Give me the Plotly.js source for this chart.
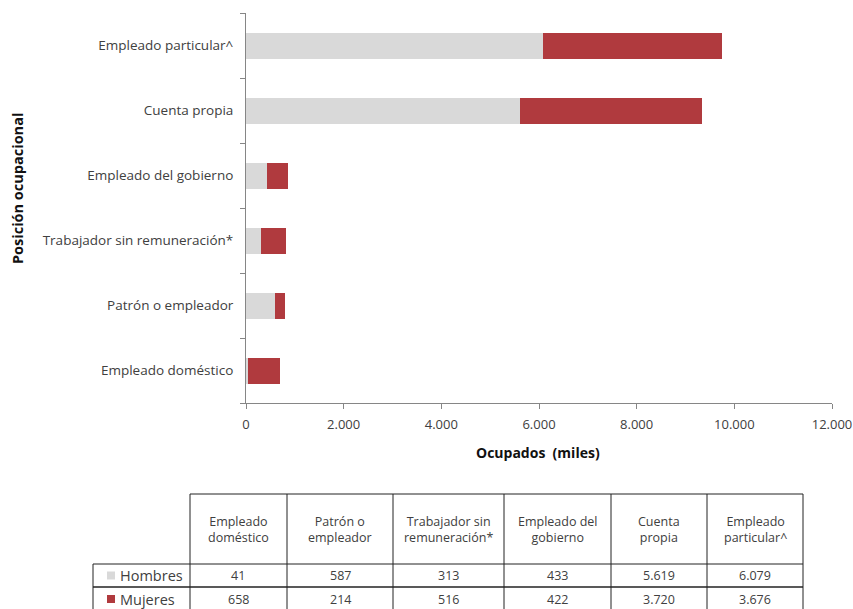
<!DOCTYPE html>
<html>
<head>
<meta charset="utf-8">
<script src="https://cdn.plot.ly/plotly-3.0.1.min.js"></script>
<style>html,body{margin:0;padding:0;background:#fff;}#chart{width:853px;height:609px;}</style>
</head>
<body>
<div id="chart"></div>
<script>
// Categories (bottom to top in the chart, left to right in the table)
var categories = ['Empleado doméstico', 'Patrón o empleador', 'Trabajador sin remuneración*', 'Empleado del gobierno', 'Cuenta propia', 'Empleado particular^'];
var tableHeaders = ['Empleado<br>doméstico', 'Patrón o<br>empleador', 'Trabajador sin<br>remuneración*', 'Empleado del<br>gobierno', 'Cuenta<br>propia', 'Empleado<br>particular^'];
var seriesNames = ['Hombres', 'Mujeres'];
var hombres = [41, 587, 313, 433, 5619, 6079];
var mujeres = [658, 214, 516, 422, 3720, 3676];
var xTickVals = [0, 2000, 4000, 6000, 8000, 10000, 12000];

var grayC = '#D9D9D9';
var redC = '#B03A3E';
var textC = '#404040';
var FONT = '"Open Sans", "Liberation Sans", sans-serif';

function fmt(n) {
  return String(n).replace(/\B(?=(\d{3})+(?!\d))/g, '.');
}

var W = 853, H = 609;
var plotL = 246, plotR = 832, plotT = 13, plotB = 403;
function px(x) { return x / W; }
function py(y) { return 1 - y / H; }

var traces = [
  {type: 'bar', orientation: 'h', name: seriesNames[0], y: categories, x: hombres,
   marker: {color: grayC}, width: 0.4},
  {type: 'bar', orientation: 'h', name: seriesNames[1], y: categories, x: mujeres,
   marker: {color: redC}, width: 0.4}
];

// ---- Table drawn with shapes + annotations (layout geometry) ----
var colEdges = [190, 287, 393, 504, 611, 707, 803];
var labelLeft = 93;
var headTop = 494, headBot = 564, row1Bot = 587, row2Bot = 611;
var rowCenters = [575.5, 599];
var lineC = '#222';
var shapes = [];
var annotations = [];

function hline(x0, x1, y, w) {
  shapes.push({type: 'line', xref: 'paper', yref: 'paper', x0: px(x0), x1: px(x1), y0: py(y), y1: py(y),
               line: {color: lineC, width: w || 1}});
}
function vline(x, y0, y1) {
  shapes.push({type: 'line', xref: 'paper', yref: 'paper', x0: px(x), x1: px(x), y0: py(y0), y1: py(y1),
               line: {color: lineC, width: 1}});
}
hline(colEdges[0], colEdges[colEdges.length - 1], headTop);
hline(labelLeft, colEdges[colEdges.length - 1], headBot);
hline(labelLeft, colEdges[colEdges.length - 1], row1Bot, 1.5);
hline(labelLeft, colEdges[colEdges.length - 1], row2Bot);
vline(labelLeft, headBot, row2Bot);
colEdges.forEach(function (x) { vline(x, headTop, row2Bot); });

var tfont = {family: FONT, size: 12.5, color: textC};
tableHeaders.forEach(function (h, i) {
  annotations.push({text: h, xref: 'paper', yref: 'paper', showarrow: false, align: 'center',
    x: px((colEdges[i] + colEdges[i + 1]) / 2), y: py((headTop + headBot) / 2),
    xanchor: 'center', yanchor: 'middle', font: tfont});
});
var seriesVals = [hombres, mujeres];
var seriesColors = [grayC, redC];
seriesNames.forEach(function (nm, r) {
  var yc = rowCenters[r];
  shapes.push({type: 'rect', xref: 'paper', yref: 'paper',
    x0: px(107), x1: px(115), y0: py(yc - 4), y1: py(yc + 4),
    fillcolor: seriesColors[r], line: {width: 0}});
  annotations.push({text: nm, xref: 'paper', yref: 'paper', showarrow: false,
    x: px(118), y: py(yc), xanchor: 'left', yanchor: 'middle',
    font: {family: FONT, size: 14.5, color: textC}});
  seriesVals[r].forEach(function (v, i) {
    annotations.push({text: fmt(v), xref: 'paper', yref: 'paper', showarrow: false,
      x: px((colEdges[i] + colEdges[i + 1]) / 2), y: py(yc), xanchor: 'center', yanchor: 'middle',
      font: tfont});
  });
});

annotations.push({text: '<b>Ocupados  (miles)</b>', xref: 'paper', yref: 'paper',
  x: px(538), y: py(452), xanchor: 'center', yanchor: 'middle', showarrow: false,
  font: {family: FONT, size: 14, color: '#111'}});
annotations.push({text: '<b>Posición ocupacional</b>', xref: 'paper', yref: 'paper', textangle: -90,
  x: px(18), y: py(189), xanchor: 'center', yanchor: 'middle', showarrow: false,
  font: {family: FONT, size: 14.5, color: '#111'}});

var layout = {
  width: W, height: H,
  margin: {l: 0, r: 0, t: 0, b: 0},
  paper_bgcolor: 'white', plot_bgcolor: 'white',
  barmode: 'stack',
  showlegend: false,
  separators: ',.',
  font: {family: FONT, size: 12, color: textC},
  xaxis: {
    domain: [px(plotL), px(plotR)],
    range: [0, 12000],
    tickvals: xTickVals,
    tickformat: ',d',
    showgrid: false, zeroline: false,
    showline: true, linecolor: '#868686', linewidth: 1,
    ticks: 'outside', ticklen: 5, tickcolor: '#868686',
    ticklabelstandoff: 4,
    tickfont: {family: FONT, size: 13, color: textC},
    automargin: false, fixedrange: true
  },
  yaxis: {
    domain: [py(plotB), py(plotT)],
    type: 'category',
    categoryorder: 'array', categoryarray: categories,
    showgrid: false, zeroline: false,
    showline: true, linecolor: '#868686', linewidth: 1,
    ticks: 'outside', ticklen: 5, tickcolor: '#868686',
    tickson: 'boundaries',
    ticklabelstandoff: 9,
    tickfont: {family: FONT, size: 13.5, color: textC},
    automargin: false, fixedrange: true
  },
  shapes: shapes,
  annotations: annotations
};

Plotly.newPlot('chart', traces, layout, {displayModeBar: false, staticPlot: true});
</script>
</body>
</html>
